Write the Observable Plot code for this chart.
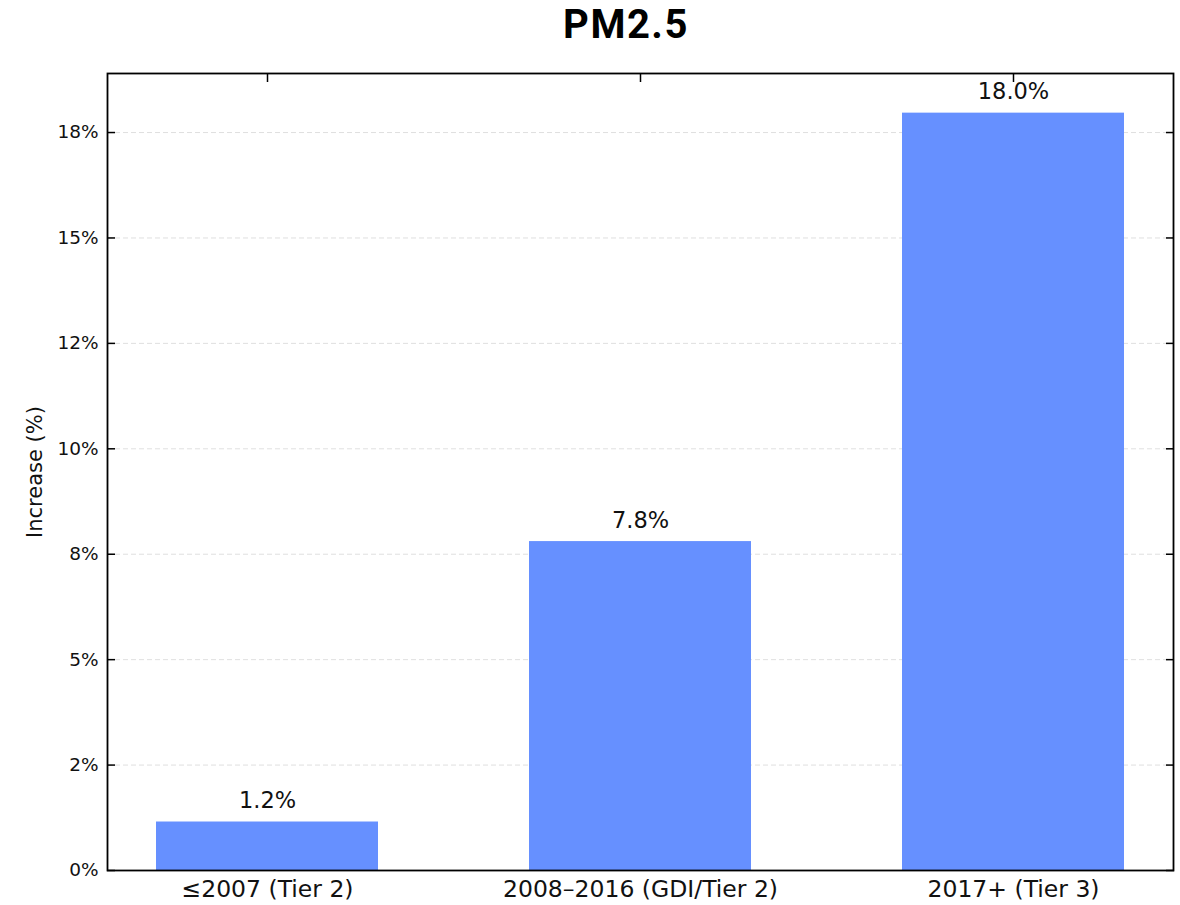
<!DOCTYPE html>
<html><head><meta charset="utf-8">
<script src="https://cdn.jsdelivr.net/npm/d3@7"></script>
<script src="https://cdn.jsdelivr.net/npm/@observablehq/plot@0.6"></script>
<style>
body{margin:0;background:#fff;}
#title{height:55px;box-sizing:border-box;padding-top:1px;padding-left:72px;text-align:center;font-family:Roboto,"Open Sans",sans-serif;font-weight:bold;font-size:40px;line-height:47px;letter-spacing:1.5px;color:#000;}
</style>
</head><body>
<div id="title">PM2.5</div>
<div id="chart"></div>
<script>
const categories = ["≤2007 (Tier 2)", "2008–2016 (GDI/Tier 2)", "2017+ (Tier 3)"];
const values = [1.15, 7.8, 17.96];
const barLabels = ["1.2%", "7.8%", "18.0%"];
const yTickValues = [0, 2.5, 5, 7.5, 10, 12.5, 15, 17.5];
const yTickLabels = ["0%", "2%", "5%", "8%", "10%", "12%", "15%", "18%"];
const yLabel = ["Increase (%)"];

const data = categories.map((c, i) => ({category: c, value: values[i], label: barLabels[i]}));
const yTicks = yTickValues.map((v, i) => ({v, label: yTickLabels[i]}));

const chart = Plot.plot({
  width: 1180,
  height: 850,
  marginTop: 18,
  marginBottom: 35,
  marginLeft: 107,
  marginRight: 7,
  style: {fontFamily: "DejaVu Sans", color: "#000", background: "#fff"},
  x: {domain: categories, paddingInner: 0.405, paddingOuter: 0.13, label: null},
  y: {domain: [0, 18.9], label: null},
  marks: [
    Plot.gridY(yTickValues, {stroke: "#b0b0b0", strokeOpacity: 0.4, strokeDasharray: "5,3", strokeWidth: 1}),
    Plot.barY(data, {x: "category", y: "value", fill: "#6690FF"}),
    Plot.text(data, {x: "category", y: "value", text: "label", lineAnchor: "bottom", dy: -14, fontSize: 22.5, fill: "#111"}),
    Plot.frame({stroke: "#000", strokeWidth: 1.8}),
    Plot.axisY({ticks: yTickValues, tickFormat: () => "", tickSize: -8, strokeWidth: 1.5, label: null}),
    Plot.text(yTicks, {y: "v", text: "label", frameAnchor: "left", textAnchor: "end", lineAnchor: "middle", dx: -9, fontSize: 18.5, fill: "#111"}),
    Plot.axisY({anchor: "right", ticks: yTickValues, tickFormat: () => "", tickSize: -8, strokeWidth: 1.5, label: null}),
    Plot.axisX({anchor: "top", tickFormat: () => "", tickSize: -8, strokeWidth: 1.5, label: null}),
    Plot.axisX({anchor: "bottom", tickSize: 0, tickPadding: 10, fontSize: 23.5, label: null, fill: "#111"}),
    Plot.text(yLabel, {frameAnchor: "left", rotate: -90, textAnchor: "middle", dx: -72, fontSize: 21, fill: "#111"})
  ]
});
document.getElementById("chart").appendChild(chart);
</script>
</body></html>
